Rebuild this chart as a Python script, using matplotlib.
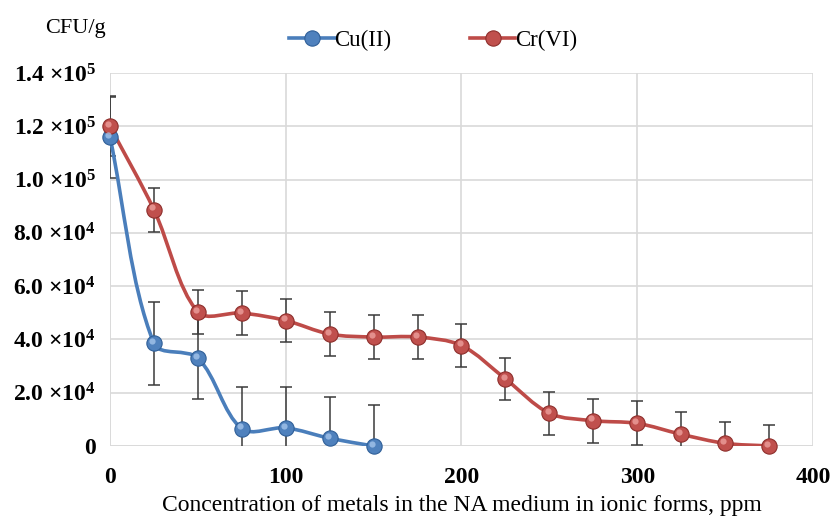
import matplotlib
matplotlib.use("Agg")
import matplotlib.pyplot as plt
import matplotlib.transforms as mtransforms
from matplotlib.lines import Line2D
from matplotlib.path import Path
from matplotlib.patches import PathPatch
import numpy as np

# ===== DATA =====
cu_x = [0, 25, 50, 75, 100, 125, 150]
cu_y = [116000, 38500, 33000, 6500, 6800, 2900, 0]
cu_err = [15500, 15500, 15500, 15800, 15500, 15400, 15400]

cr_x = [0, 25, 50, 75, 100, 125, 150, 175, 200, 225, 250, 275, 300, 325, 350, 375]
cr_y = [120000, 88700, 50300, 49900, 47100, 42000, 40900, 40900, 37700,
        25200, 12300, 9500, 8500, 4400, 1000, 0]
cr_err = [11000, 8300, 8200, 8200, 8200, 8300, 8300, 8200, 8200,
          8000, 8000, 8200, 8300, 8300, 8000, 8000]

x_ticks = [0, 100, 200, 300, 400]
y_ticks = [0, 20000, 40000, 60000, 80000, 100000, 120000, 140000]
y_tick_labels = ["0",
                 r"2.0 ×10$^{\mathbf{4}}$", r"4.0 ×10$^{\mathbf{4}}$",
                 r"6.0 ×10$^{\mathbf{4}}$", r"8.0 ×10$^{\mathbf{4}}$",
                 r"1.0 ×10$^{\mathbf{5}}$", r"1.2 ×10$^{\mathbf{5}}$",
                 r"1.4 ×10$^{\mathbf{5}}$"]

plt.rcParams["font.family"] = ["Liberation Serif", "DejaVu Serif"]
plt.rcParams["mathtext.fontset"] = "custom"
plt.rcParams["mathtext.rm"] = "Liberation Serif"
plt.rcParams["mathtext.bf"] = "Liberation Serif:bold"
plt.rcParams["mathtext.it"] = "Liberation Serif:italic"


def smooth_path(ax, xs, ys):
    # smoothed line like Excel: bezier segments, tangents scaled by
    # on-screen segment lengths so short steps don't overshoot
    p = ax.transData.transform(np.column_stack([xs, ys]).astype(float))
    n = len(p)
    d = np.hypot(*np.diff(p, axis=0).T)
    verts = [p[0]]
    codes = [Path.MOVETO]
    for i in range(n - 1):
        if i > 0:
            c1 = p[i] + (p[i + 1] - p[i - 1]) * d[i] / (d[i - 1] + d[i]) / 3
        else:
            c1 = p[i] + (p[i + 1] - p[i]) / 3
        if i + 2 < n:
            c2 = p[i + 1] - (p[i + 2] - p[i]) * d[i] / (d[i] + d[i + 1]) / 3
        else:
            c2 = p[i + 1] - (p[i + 1] - p[i]) / 3
        verts += [c1, c2, p[i + 1]]
        codes += [Path.CURVE4] * 3
    verts = ax.transData.inverted().transform(np.array(verts))
    return Path(verts, codes)


fig = plt.figure(figsize=(8.33, 5.18), dpi=100)
ax = fig.add_axes([0.132, 0.139, 0.844, 0.72])
ax.set_xlim(0, 400)
ax.set_ylim(0, 140000)

series = [
    (cu_x, cu_y, cu_err, "#4A7EBB", "#4F81BD", "#2F5F98", "#A9C8EE", "Cu(II)"),
    (cr_x, cr_y, cr_err, "#BE4B48", "#C0504D", "#8E2E2B", "#F0A5A2", "Cr(VI)"),
]

# error bars behind everything
for xs, ys, errs, lc, fc, ec, hc, name in series:
    ax.errorbar(xs, ys, yerr=errs, fmt="none", ecolor="#3a3a3a",
                elinewidth=1.1, capsize=4, capthick=1.1, zorder=2)

# smoothed lines
for xs, ys, errs, lc, fc, ec, hc, name in series:
    ax.add_patch(PathPatch(smooth_path(ax, xs, ys), facecolor="none",
                           edgecolor=lc, lw=2.6, zorder=3,
                           capstyle="round", joinstyle="round"))

# sphere-like markers with a small highlight
hl = mtransforms.ScaledTranslation(-1.3 / 72, 1.6 / 72, fig.dpi_scale_trans)
for xs, ys, errs, lc, fc, ec, hc, name in series:
    ax.plot(xs, ys, "o", ms=11, mfc=fc, mec=ec, mew=0.8,
            zorder=4, clip_on=False)
    ax.plot(xs, ys, "o", ms=4.5, mfc=hc, mec="none", alpha=0.75,
            zorder=5, clip_on=False, transform=ax.transData + hl)

ax.set_xlim(0, 400)
ax.set_ylim(0, 140000)
ax.set_xticks(x_ticks)
ax.set_xticklabels([str(t) for t in x_ticks], fontsize=17, fontweight="bold")
ax.set_yticks(y_ticks)
ax.set_yticklabels(y_tick_labels, fontsize=17, fontweight="bold")
ax.tick_params(length=0, pad=10)
ax.tick_params(axis="x", pad=15)

ax.grid(True, color="#d9d9d9", lw=1.2)
ax.set_axisbelow(True)
for s in ax.spines.values():
    s.set_visible(False)
ax.axhline(0, color="#d9d9d9", lw=1.2, zorder=1)
ax.axvline(0, color="#d9d9d9", lw=1.2, zorder=1)

ax.set_xlabel("Concentration of metals in the NA medium in ionic forms, ppm",
              fontsize=17, labelpad=5)
fig.text(0.054, 0.945, "CFU/g", fontsize=16, ha="left", va="center")

handles = [Line2D([], [], color=s[3], lw=2.6, marker="o", ms=11, mfc=s[4],
                  mec=s[5], mew=0.8) for s in series]
fig.legend(handles, [s[7] for s in series], loc="center",
           bbox_to_anchor=(0.52, 0.922), ncol=2, frameon=False,
           fontsize=16.5, handlelength=2.0, handletextpad=0.0,
           columnspacing=3.4)

fig.savefig("out.png", dpi=100)
